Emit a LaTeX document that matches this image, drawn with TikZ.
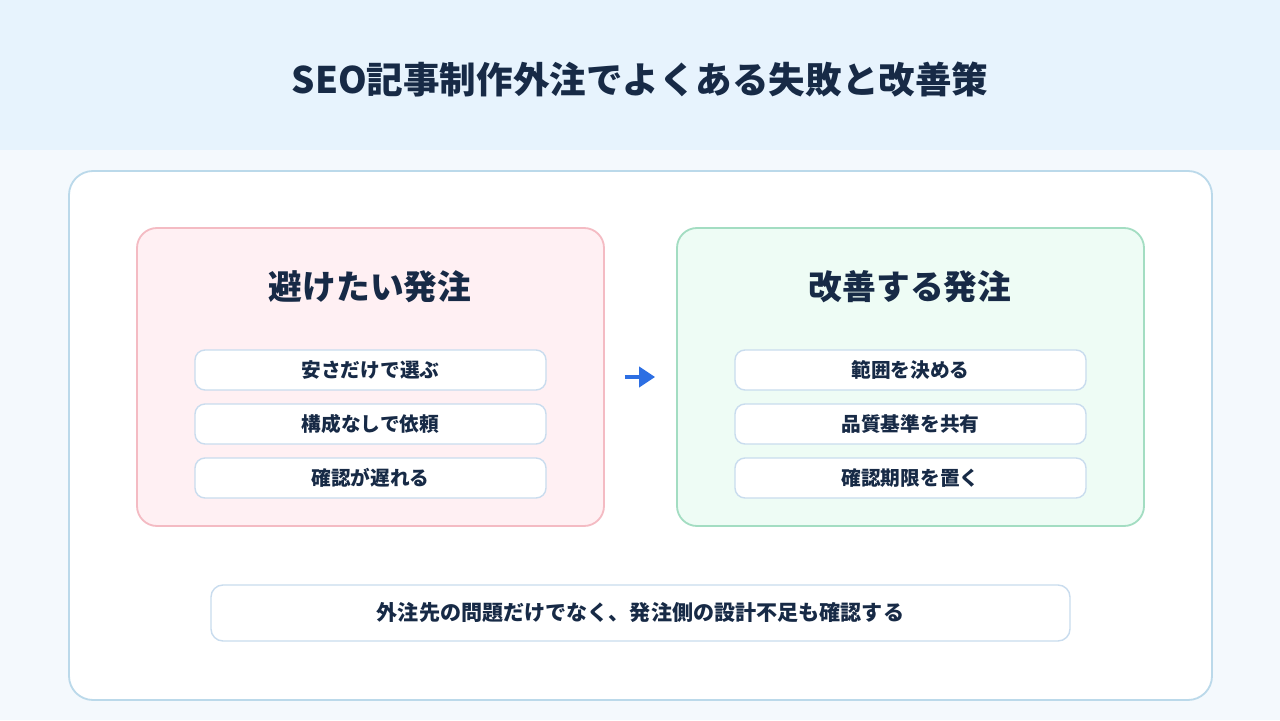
\documentclass[tikz,border=0pt]{standalone}
\usepackage{fontspec}
\setmainfont{Noto Sans CJK JP}
\usepackage{xcolor}
\usepackage{tikz}
\usetikzlibrary{positioning,arrows.meta}

\definecolor{inkblue}{HTML}{172A46}
\definecolor{headbg}{HTML}{E7F3FD}
\definecolor{pagebg}{HTML}{F4F9FD}
\definecolor{mainline}{HTML}{BBD9EA}
\definecolor{badfill}{HTML}{FFF0F3}
\definecolor{badline}{HTML}{F4BBC3}
\definecolor{goodfill}{HTML}{EEFCF5}
\definecolor{goodline}{HTML}{A3DDC2}
\definecolor{itemline}{HTML}{C9DCEE}
\definecolor{arrowblue}{HTML}{2D6FE3}

\begin{document}
\begin{tikzpicture}[
    every node/.style={font=\bfseries, text=inkblue},
    mainpanel/.style={
        rectangle,
        rounded corners=0.6cm,
        draw=mainline,
        fill=white,
        line width=1.3pt,
        minimum width=28.575cm,
        minimum height=13.225cm
    },
    sidepanel/.style={
        rectangle,
        rounded corners=0.5cm,
        line width=1.3pt,
        minimum width=11.675cm,
        minimum height=7.45cm
    },
    item/.style={
        rectangle,
        rounded corners=0.25cm,
        draw=itemline,
        fill=white,
        line width=1pt,
        minimum width=8.775cm,
        minimum height=1.0cm,
        font=\bfseries\fontsize{14}{16}\selectfont
    },
    panelhead/.style={font=\bfseries\fontsize{24}{28}\selectfont},
    arrow/.style={-{Triangle[length=0.4cm,width=0.5cm]}, line width=3.5pt, draw=arrowblue}
]

% Background and header band
\fill[pagebg] (0,0) rectangle (32,18);
\fill[headbg] (0,14.25) rectangle (32,18);
\useasboundingbox (0,0) rectangle (32,18);

\node[font=\bfseries\fontsize{26}{31}\selectfont] (title) at (16,16.0) {SEO記事制作外注でよくある失敗と改善策};

% Main panel
\node[mainpanel] (main) at (16.0125,7.1125) {};

% Side panels
\node[sidepanel, draw=badline, fill=badfill]   (bad)  at (9.2625,8.575)  {};
\node[sidepanel, draw=goodline, fill=goodfill] (good) at (22.7625,8.575) {};

\node[panelhead] (badhead)  at (9.25,10.825)   {避けたい発注};
\node[panelhead] (goodhead) at (22.75,10.825)  {改善する発注};

% Items
\node[item] (bad1) at (9.2625,8.75) {安さだけで選ぶ};
\node[item] (bad2) at (9.2625,7.4)  {構成なしで依頼};
\node[item] (bad3) at (9.2625,6.05) {確認が遅れる};

\node[item] (good1) at (22.7625,8.75) {範囲を決める};
\node[item] (good2) at (22.7625,7.4)  {品質基準を共有};
\node[item] (good3) at (22.7625,6.05) {確認期限を置く};

% Arrow
\draw[arrow, shorten <=0.5cm, shorten >=0.525cm] (bad.east) -- (good.west);

% Bottom note
\node[item, rounded corners=0.3cm, minimum width=21.475cm, minimum height=1.4cm,
      font=\bfseries\fontsize{15}{18}\selectfont] (note) at (16.0125,2.675)
      {外注先の問題だけでなく、発注側の設計不足も確認する};

\end{tikzpicture}
\end{document}
